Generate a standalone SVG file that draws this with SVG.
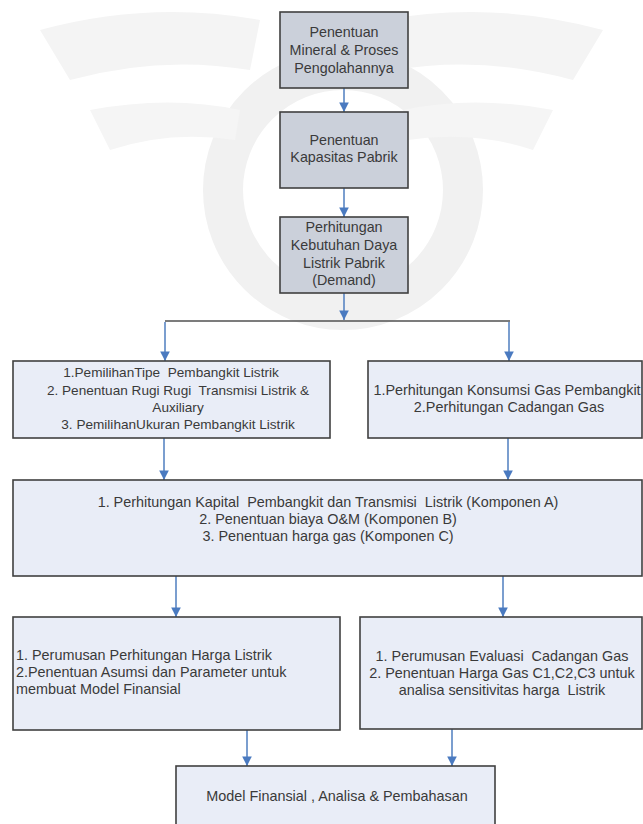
<svg xmlns="http://www.w3.org/2000/svg" width="643" height="824" viewBox="0 0 643 824">
<style>
  .box{fill:#e9edf7;stroke:#404040;stroke-width:1.6}
  .boxg{fill:#cbd0da;stroke:#404040;stroke-width:1.6}
  text{white-space:pre}
  .t{font-family:"Liberation Sans",Arial,sans-serif;font-size:14.4px;fill:#3a3a3a}
  .s{font-size:13.6px}
  .tb{font-family:"Liberation Sans",Arial,sans-serif;font-size:14.3px;fill:#3a3a3a}
  .c{text-anchor:middle}
  .arr{stroke:#5a86c3;stroke-width:1.6;fill:none;marker-end:url(#ah)}
  .ln{stroke:#505050;stroke-width:1.6;fill:none}
  .wm{fill:none;stroke:#f1f1f1}
</style>
<defs>
  <marker id="ah" viewBox="0 0 10 10" refX="10" refY="5" markerWidth="6" markerHeight="6" markerUnits="strokeWidth" orient="auto">
    <path d="M0,0 L10,5 L0,10 Z" fill="#4a7ac0"/>
  </marker>
</defs>
<rect width="643" height="824" fill="#ffffff"/>
<g id="watermark">
  <circle class="wm" cx="343" cy="190" r="120" stroke-width="40"/>
  <path d="M40,30 Q150,0 260,20 L250,70 Q160,55 70,80 Z" fill="#f4f4f4"/>
  <path d="M603,30 Q493,0 383,20 L393,70 Q483,55 573,80 Z" fill="#f4f4f4"/>
  <path d="M90,110 Q170,95 240,110 L235,140 Q170,130 110,150 Z" fill="#f5f5f5"/>
  <path d="M553,110 Q473,95 403,110 L408,140 Q473,130 533,150 Z" fill="#f5f5f5"/>
</g>
<g id="connectors">
  <line class="arr" x1="344" y1="88" x2="344" y2="112"/>
  <line class="arr" x1="344" y1="188" x2="344" y2="217"/>
  <line class="arr" x1="344" y1="293" x2="344" y2="320"/>
  <line class="ln" x1="165" y1="321" x2="510" y2="321"/>
  <line class="arr" x1="165" y1="322" x2="165" y2="361"/>
  <line class="arr" x1="509" y1="322" x2="509" y2="361"/>
  <line class="arr" x1="164" y1="438" x2="164" y2="480"/>
  <line class="arr" x1="508" y1="438" x2="508" y2="480"/>
  <line class="arr" x1="176" y1="576" x2="176" y2="617"/>
  <line class="arr" x1="503" y1="576" x2="503" y2="617"/>
  <line class="arr" x1="247" y1="730" x2="247" y2="766"/>
  <line class="arr" x1="452" y1="729" x2="452" y2="766"/>
</g>
<g id="n1">
  <rect class="boxg" x="280" y="12" width="128" height="76"/>
  <text class="tb c" x="344" y="37">Penentuan</text>
  <text class="tb c" x="344" y="55">Mineral &amp; Proses</text>
  <text class="tb c" x="344" y="73">Pengolahannya</text>
</g>
<g id="n2">
  <rect class="boxg" x="280" y="112" width="128" height="76"/>
  <text class="tb c" x="344" y="145">Penentuan</text>
  <text class="tb c" x="344" y="162">Kapasitas Pabrik</text>
</g>
<g id="n3">
  <rect class="boxg" x="280" y="217" width="128" height="76"/>
  <text class="tb c" x="344" y="232">Perhitungan</text>
  <text class="tb c" x="344" y="250">Kebutuhan Daya</text>
  <text class="tb c" x="344" y="268">Listrik Pabrik</text>
  <text class="tb c" x="344" y="285">(Demand)</text>
</g>
<g id="n4">
  <rect class="box" x="13" y="361" width="317" height="77"/>
  <text class="t s c" x="171" y="377">1.PemilihanTipe  Pembangkit Listrik</text>
  <text class="t s c" x="178" y="395">2. Penentuan Rugi Rugi  Transmisi Listrik &amp;</text>
  <text class="t s c" x="178" y="412">Auxiliary</text>
  <text class="t s c" x="178" y="429">3. PemilihanUkuran Pembangkit Listrik</text>
</g>
<g id="n5">
  <rect class="box" x="368" y="361" width="274" height="77"/>
  <text class="t c" x="507" y="395">1.Perhitungan Konsumsi Gas Pembangkit</text>
  <text class="t c" x="509" y="412">2.Perhitungan Cadangan Gas</text>
</g>
<g id="n6">
  <rect class="box" x="13" y="480" width="629" height="96"/>
  <text class="t c" x="328" y="507">1. Perhitungan Kapital  Pembangkit dan Transmisi  Listrik (Komponen A)</text>
  <text class="t c" x="328" y="524">2. Penentuan biaya O&amp;M (Komponen B)</text>
  <text class="t c" x="328" y="541">3. Penentuan harga gas (Komponen C)</text>
</g>
<g id="n7">
  <rect class="box" x="13" y="617" width="327" height="113"/>
  <text class="t" x="16" y="660">1. Perumusan Perhitungan Harga Listrik</text>
  <text class="t" x="16" y="677">2.Penentuan Asumsi dan Parameter untuk</text>
  <text class="t" x="16" y="694">membuat Model Finansial</text>
</g>
<g id="n8">
  <rect class="box" x="360" y="617" width="282" height="112"/>
  <text class="t c" x="502" y="661">1. Perumusan Evaluasi  Cadangan Gas</text>
  <text class="t c" x="502" y="678">2. Penentuan Harga Gas C1,C2,C3 untuk</text>
  <text class="t c" x="502" y="695">analisa sensitivitas harga  Listrik</text>
</g>
<g id="n9">
  <rect class="box" x="176" y="766" width="319" height="70"/>
  <text class="t c" x="337" y="801">Model Finansial , Analisa &amp; Pembahasan</text>
</g>
</svg>
